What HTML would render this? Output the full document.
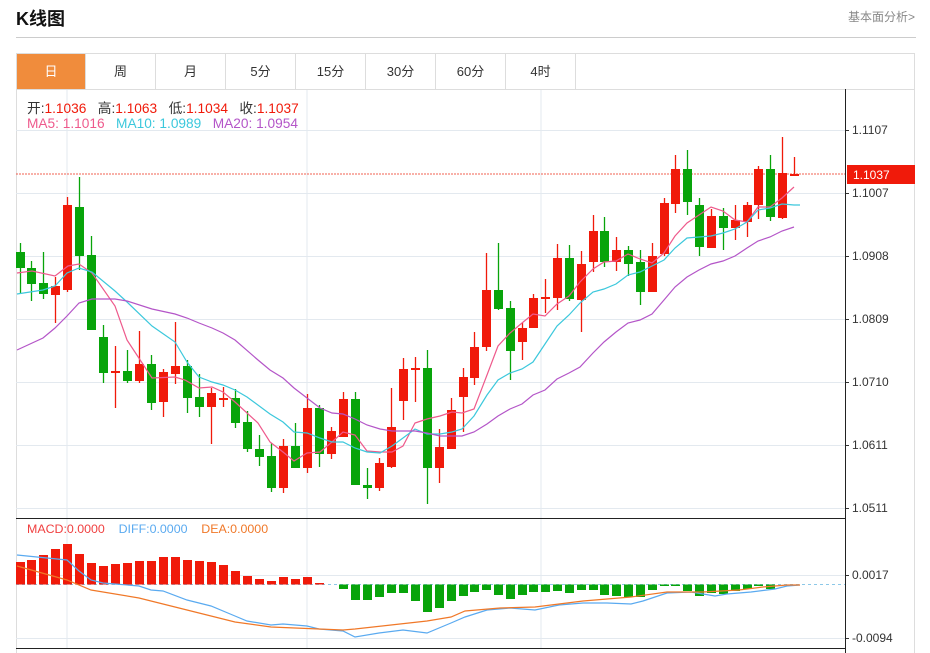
<!DOCTYPE html>
<html><head><meta charset="utf-8"><style>
body{margin:0;width:930px;height:653px;background:#fff;font-family:"Liberation Sans","Noto Sans CJK SC",sans-serif;overflow:hidden;position:relative}
.t{position:absolute;white-space:nowrap}
.tab{position:absolute;top:54px;height:35px;width:70px;line-height:35px;text-align:center;font-size:13px;color:#333;border-right:1px solid #ddd;box-sizing:border-box}
</style></head><body>
<div class="t" style="left:16px;top:5px;font-size:18px;font-weight:bold;color:#111">K线图</div>
<div class="t" style="left:848px;top:8px;font-size:12px;color:#888">基本面分析&gt;</div>
<div style="position:absolute;left:16px;top:37px;width:900px;height:1px;background:#ccc"></div>
<div style="position:absolute;left:16px;top:53px;width:899px;height:600px;border:1px solid #ddd;border-bottom:none;box-sizing:border-box"></div>
<div style="position:absolute;left:16px;top:89px;width:899px;height:1px;background:#ddd"></div>
<div class="tab" style="left:17px;background:#f08c3c;color:#fff;width:69px">日</div>
<div class="tab" style="left:86px">周</div>
<div class="tab" style="left:156px">月</div>
<div class="tab" style="left:226px">5分</div>
<div class="tab" style="left:296px">15分</div>
<div class="tab" style="left:366px">30分</div>
<div class="tab" style="left:436px">60分</div>
<div class="tab" style="left:506px">4时</div>
<svg id="s" width="930" height="653" style="position:absolute;left:0;top:0" xmlns="http://www.w3.org/2000/svg"></svg>
<div class="t" style="left:27px;top:97px;font-size:13.7px;color:#333">开:<span style="color:#f01a0a">1.1036</span>&nbsp;&nbsp; 高:<span style="color:#f01a0a">1.1063</span>&nbsp;&nbsp; 低:<span style="color:#f01a0a">1.1034</span>&nbsp;&nbsp; 收:<span style="color:#f01a0a">1.1037</span></div>
<div class="t" style="left:27px;top:116px;font-size:13.7px"><span style="color:#ee5a8c">MA5: 1.1016</span>&nbsp;&nbsp; <span style="color:#3cc8dc">MA10: 1.0989</span>&nbsp;&nbsp; <span style="color:#b455c8">MA20: 1.0954</span></div>
<div class="t" style="left:27px;top:522px;font-size:12.4px"><span style="color:#f04040">MACD:0.0000</span>&nbsp;&nbsp;&nbsp; <span style="color:#5aaaf0">DIFF:0.0000</span>&nbsp;&nbsp;&nbsp; <span style="color:#f07828">DEA:0.0000</span></div>
<script>
var s=document.getElementById('s'),h='';
function L(x1,y1,x2,y2,c,w,d){h+='<line x1="'+x1+'" y1="'+y1+'" x2="'+x2+'" y2="'+y2+'" stroke="'+c+'" stroke-width="'+(w||1)+'"'+(d?' stroke-dasharray="'+d+'"':'')+'/>';}
function T(x,y,t){h+='<text x="'+x+'" y="'+y+'" font-size="12" fill="#333" font-family="Liberation Sans,sans-serif">'+t+'</text>';}
var G='#e3e9ef';
[67,307,541].forEach(function(x){L(x,90,x,648,G)});
var ticks=[[130,'1.1107'],[193,'1.1007'],[256,'1.0908'],[319,'1.0809'],[382,'1.0710'],[445,'1.0611'],[508,'1.0511']];
ticks.forEach(function(t){L(16,t[0]+.5,845,t[0]+.5,G);L(845,t[0]+.5,849,t[0]+.5,'#333');T(852,t[0]+4,t[1])});
[[575,'0.0017'],[638,'-0.0094']].forEach(function(t){L(16,t[0]+.5,845,t[0]+.5,G);L(845,t[0]+.5,849,t[0]+.5,'#333');T(852,t[0]+4,t[1])});
L(16,518.5,845,518.5,'#222');L(16,648.5,845,648.5,'#222');L(845.5,89,845.5,653,'#222');
L(16,174,845,174,'#f06050',1,'2,1');
L(16,584.5,845,584.5,'#8cc8e8',1,'3,3');
var R='#f01a0a',Gr='#08a40a';
var c=[[20,'g',252,268,243,293],[31,'g',268,284,261,301],[43,'g',283,294,252,299],[55,'r',286,295,277,323],[67,'r',205,290,197,292],[79,'g',207,256,177,270],[91,'g',255,330,236,330],[103,'g',337,373,325,383],[115,'r',371,373,346,408],[127,'g',371,381,350,383],[139,'r',364,381,331,383],[151,'g',364,403,355,410],[163,'r',372,402,369,417],[175,'r',366,374,322,384],[187,'g',366,398,360,413],[199,'g',397,407,374,417],[211,'r',393,407,388,444],[223,'r',398,399,387,407],[235,'g',398,423,389,428],[247,'g',422,449,411,452],[259,'g',449,457,435,466],[271,'g',456,488,443,492],[283,'r',446,488,439,493],[295,'g',446,468,423,468],[307,'r',408,468,394,473],[319,'g',408,454,405,467],[331,'r',431,454,427,459],[343,'r',399,437,392,437],[355,'g',399,485,392,485],[367,'g',485,488,468,499],[379,'r',463,488,458,491],[391,'r',427,467,388,468],[403,'r',369,401,358,420],[415,'r',368,369,357,402],[427,'g',368,468,350,504],[439,'r',447,468,429,483],[451,'r',410,449,398,449],[463,'r',377,397,368,432],[474,'r',347,378,332,385],[486,'r',290,347,253,351],[498,'g',290,309,243,310],[510,'g',308,351,301,380],[522,'r',328,342,323,360],[533,'r',298,328,294,328],[545,'r',297,299,279,313],[557,'r',258,298,244,310],[569,'g',258,299,245,301],[581,'r',264,300,251,332],[593,'r',231,262,215,272],[604,'g',231,262,217,267],[616,'r',250,262,237,271],[628,'g',250,264,246,276],[640,'g',262,292,250,305],[652,'r',256,292,243,292],[664,'r',203,254,198,256],[675,'r',169,204,155,213],[687,'g',169,202,150,215],[699,'g',205,247,198,256],[711,'r',216,248,209,248],[723,'g',216,228,208,250],[735,'r',220,228,205,240],[747,'r',205,222,202,237],[758,'r',169,205,166,219],[770,'g',169,217,155,221],[782,'r',173,218,137,219],[794,'r',174,176,157,176]];
c.forEach(function(k){var col=k[1]=='r'?R:Gr;L(k[0]+.5,k[4],k[0]+.5,k[5],col,1.3);var hh=Math.max(k[3]-k[2],2);h+='<rect x="'+(k[0]-4)+'" y="'+k[2]+'" width="9" height="'+hh+'" fill="'+col+'"/>';});
function P(pts,col){h+='<polyline fill="none" stroke="'+col+'" stroke-width="1.2" points="'+pts+'"/>';}
P('17,273 32,271 55,276 68,266 79,264 92,273 115,306 127,340 152,378 175,377 185,380 199,388 212,387 223,392 235,402 258,423 270,442 283,452 294,461 307,453 320,452 332,442 343,432 355,435 367,451 380,452 392,452 403,446 415,423 427,419 440,416 452,412 462,413 474,409 487,375 498,346 510,333 522,323 533,314 545,316 557,304 569,296 580,282 593,269 604,262 616,261 628,254 640,259 652,263 664,253 675,236 687,223 699,215 711,207 723,211 735,220 747,222 758,207 770,207 782,198 794,187','#ee5a8c');
P('17,294 43,290 55,286 67,273 79,268 92,272 115,291 127,302 152,326 175,342 187,362 199,377 212,382 223,385 235,390 247,397 270,414 283,422 294,432 307,433 320,438 332,442 343,442 355,448 367,452 380,453 392,446 403,438 415,429 427,434 440,434 452,432 462,429 474,416 487,395 498,380 510,373 522,369 533,362 545,344 557,326 569,315 580,303 593,292 604,289 616,284 628,275 640,272 652,266 664,260 675,248 687,238 699,237 711,236 723,233 735,229 747,222 758,210 770,208 782,204 794,205 800,205','#3cc8dc');
P('17,350 43,338 55,328 67,316 79,303 92,299 115,299 127,301 152,309 175,314 187,318 199,323 212,328 223,333 235,340 258,360 270,370 283,378 294,388 307,398 320,408 332,413 343,414 355,419 367,425 380,429 392,431 415,431 427,433 440,436 452,436 462,436 474,432 487,424 498,416 510,409 522,404 533,395 545,390 557,379 569,373 580,367 593,353 604,342 616,332 628,323 640,320 652,314 664,300 675,287 687,277 699,270 711,264 723,261 735,256 747,248 758,241 770,237 782,231 794,227','#b455c8');
var m=[562,560,555,549,544,554,563,566,564,563,561,561,557,557,560,561,562,565,571,576,579,581,577,579,577,583,584,589,600,600,597,593,593,601,612,608,601,596,592,590,595,599,595,592,592,591,593,590,590,595,596,597,597,590,586,586,591,596,593,594,591,589,586,589,585,585];
m.forEach(function(y,i){var x=c[i]?c[i][0]:20+11.9*i;var z=584.5;if(Math.abs(y-z)<1.5)return;var top=Math.min(y,z),hh=Math.abs(y-z);h+='<rect x="'+(x-4)+'" y="'+top+'" width="9" height="'+hh+'" fill="'+(y<z?R:Gr)+'"/>';});
P('17,555 67,560 79,571 91,580 103,583 115,584 139,586 151,590 163,591 187,600 211,606 235,616 247,621 271,625 283,624 307,626 319,629 343,631 355,637 379,633 403,630 427,633 451,623 465,617 487,610 510,608 535,610 559,605 583,603 607,603 631,604 643,601 667,593 691,592 703,594 715,596 727,594 751,592 775,589 787,586 800,585','#5aaaf0');
P('17,566 67,580 91,590 139,598 187,610 235,622 271,627 319,629 343,630 355,629 391,625 427,621 451,617 465,611 500,608 535,607 583,601 631,597 667,592 703,592 739,590 763,587 787,585 800,585','#f07828');
h+='<rect x="847" y="165" width="68" height="19" fill="#f01a0a"/><text x="853" y="179" font-size="12" fill="#fff" font-family="Liberation Sans,sans-serif">1.1037</text>';
s.innerHTML=h;
</script>
</body></html>
